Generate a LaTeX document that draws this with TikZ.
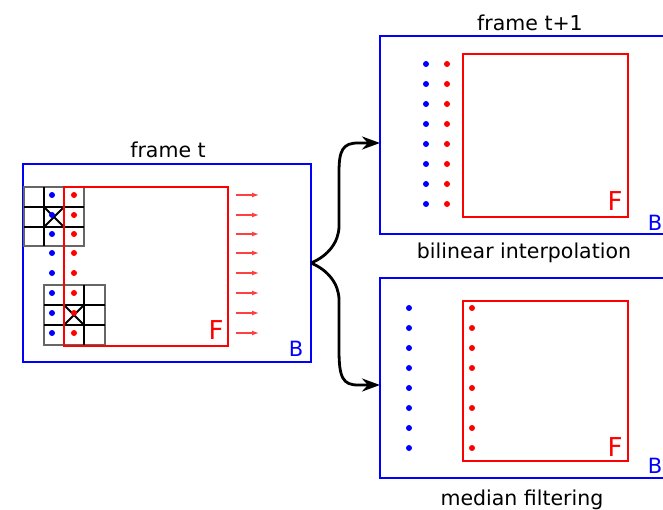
\documentclass[tikz,border=0pt]{standalone}
\usepackage{fontspec}
\setmainfont{DejaVu Sans}
\usetikzlibrary{arrows.meta}
\begin{document}
\begin{tikzpicture}[x=1pt,y=-1pt,
  bluebox/.style={draw=blue, line width=2.8pt, inner sep=0pt, outer sep=0pt, rectangle},
  redbox/.style={draw=red, line width=2.8pt, inner sep=0pt, outer sep=0pt, rectangle},
  gridthin/.style={draw=black!60, line width=1.2pt},
  gridthick/.style={draw=black, line width=2.4pt},
  xmark/.style={draw=black, line width=1.8pt},
  bdot/.style={fill=blue},
  rdot/.style={fill=red},
  conn/.style={draw=black, line width=2.8pt, -{Stealth[length=18pt,width=13pt]}},
  motion/.style={draw=red!75, line width=1.3pt, -{Latex[length=7pt,width=5pt]}},
  caption/.style={font=\fontsize{20.5}{24}\selectfont, anchor=base, inner sep=0pt},
  flabel/.style={text=red, font=\fontsize{26}{30}\selectfont, inner sep=0pt},
  blabel/.style={text=blue, font=\fontsize{21}{24}\selectfont, inner sep=0pt}
]
\useasboundingbox (0,0) rectangle (663,510);
\clip (0,0) rectangle (663,510);

% ---------- frame t ----------
\node[bluebox, minimum width=288pt, minimum height=198pt] (B0) at (167,263) {};
\node[caption] (cap0) at (168,158) {frame t};

% top grid
\draw[gridthin] (24,187) rectangle (84,246);
\draw[gridthick] (44,187) -- (44,246) (64,187) -- (64,246) (24,207) -- (84,207) (24,227) -- (84,227);
\draw[xmark] (44,207) -- (64,227) (44,227) -- (64,207);
% bottom grid
\draw[gridthin] (44,285) rectangle (105,345);
\draw[gridthick] (64,285) -- (64,345) (84,285) -- (84,345) (44,305) -- (105,305) (44,325) -- (105,325);
\draw[xmark] (64,305) -- (84,325) (64,325) -- (84,305);

\node[redbox, minimum width=164pt, minimum height=159pt] (F0) at (146,266.5) {};

\foreach \y in {195,215,234,253,273,293,313,333} {
  \fill[bdot] (52,\y) circle (3pt);
  \fill[rdot] (74,\y) circle (3pt);
  \draw[motion] (236,\y) -- (259,\y);
}
\node[flabel] (fl0) at (216,330) {F};
\node[blabel] (bl0) at (296,349) {B};

% ---------- frame t+1 (bilinear) ----------
\node[bluebox, minimum width=300pt, minimum height=198pt] (B1) at (530,135) {};
\node[caption] (cap1) at (530,31) {frame t+1};
\node[redbox, minimum width=165pt, minimum height=163pt] (F1) at (545.5,135.5) {};
\foreach \i in {0,...,7} {
  \fill[bdot] (426,64+20*\i) circle (3pt);
  \fill[rdot] (447,64+20*\i) circle (3pt);
}
\node[flabel] (fl1) at (615,201) {F};
\node[blabel] (bl1) at (655,223) {B};
\node[caption] (cap2) at (524,259) {bilinear interpolation};

% ---------- median filtering ----------
\node[bluebox, minimum width=300pt, minimum height=200pt] (B2) at (530,378) {};
\node[redbox, minimum width=165pt, minimum height=160pt] (F2) at (545.5,381) {};
\foreach \i in {0,...,7} {
  \fill[bdot] (409,308+20*\i) circle (3pt);
  \fill[rdot] (472,308+20*\i) circle (3pt);
}
\node[flabel] (fl2) at (615,447) {F};
\node[blabel] (bl2) at (655,466) {B};
\node[caption] (cap3) at (522,505) {median filtering};

% ---------- connectors ----------
\coordinate (in1) at (B1.west |- 0,143);
\coordinate (in2) at (B2.west |- 0,385);
\draw[conn] (B0.east) .. controls (328,256) and (339,242) .. (339,226) -- (339,172)
  .. controls (339,150) and (343,143) .. (358,143) -- (in1);
\draw[conn] (B0.east) .. controls (328,270) and (339,284) .. (339,300) -- (339,350)
  .. controls (339,378) and (343,385) .. (358,385) -- (in2);
\end{tikzpicture}
\end{document}
